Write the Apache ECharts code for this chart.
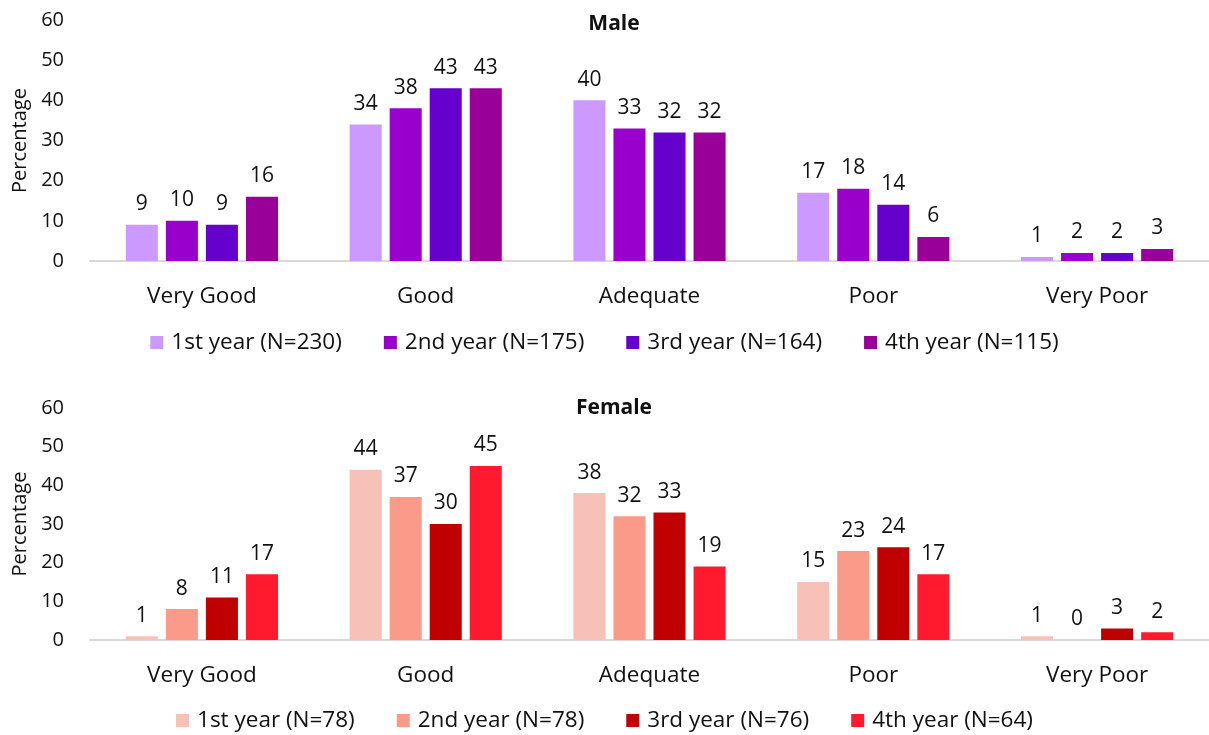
<!DOCTYPE html>
<html>
<head>
<meta charset="utf-8">
<script src="https://cdn.jsdelivr.net/npm/echarts@6/dist/echarts.min.js"></script>
<style>
  html, body { margin: 0; padding: 0; background: #fff; }
  #chart { width: 1209px; height: 735px; }
</style>
</head>
<body>
<div id="chart"></div>
<script>
// Self-rated ratings by year of study, split by sex (percentages)
const categories = ['Very Good', 'Good', 'Adequate', 'Poor', 'Very Poor'];
const yTicks = { min: 0, max: 60, interval: 10 };

const maleNames = ['1st year (N=230)', '2nd year (N=175)', '3rd year (N=164)', '4th year (N=115)'];
const male1st = [9, 34, 40, 17, 1];
const male2nd = [10, 38, 33, 18, 2];
const male3rd = [9, 43, 32, 14, 2];
const male4th = [16, 43, 32, 6, 3];
const maleColors = ['#CC99FF', '#9900CC', '#6600CC', '#990099'];

const femaleNames = ['1st year (N=78)', '2nd year (N=78)', '3rd year (N=76)', '4th year (N=64)'];
const female1st = [1, 44, 38, 15, 1];
const female2nd = [8, 37, 32, 23, 0];
const female3rd = [11, 30, 33, 24, 3];
const female4th = [17, 45, 19, 17, 2];
const femaleColors = ['#F8C1B7', '#F99B88', '#C00000', '#FF1A2E'];

const FONT = '"Open Sans"';
const TXT = '#111';

function barSeries(name, data, color, idx) {
  return {
    name: name,
    type: 'bar',
    xAxisIndex: idx,
    yAxisIndex: idx,
    data: data,
    itemStyle: { color: color },
    barGap: '25%',
    barCategoryGap: '32%',
    label: {
      show: true,
      position: 'top',
      distance: 10,
      color: TXT,
      fontFamily: FONT,
      fontSize: 21
    }
  };
}

function xAxis(idx) {
  return {
    type: 'category',
    gridIndex: idx,
    data: categories,
    axisLine: { lineStyle: { color: '#D9D9D9', width: 2 } },
    axisTick: { show: false },
    axisLabel: { color: TXT, fontFamily: FONT, fontSize: 22.5, margin: 24 }
  };
}

function yAxis(idx) {
  return {
    type: 'value',
    gridIndex: idx,
    min: yTicks.min,
    max: yTicks.max,
    interval: yTicks.interval,
    name: 'Percentage',
    nameLocation: 'middle',
    nameGap: 60,
    nameTextStyle: { color: TXT, fontFamily: FONT, fontSize: 20 },
    axisLine: { show: false },
    axisTick: { show: false },
    splitLine: { show: false },
    axisLabel: { color: TXT, fontFamily: FONT, fontSize: 20, margin: 26 }
  };
}

function legend(names, top) {
  return {
    top: top,
    left: 'center',
    padding: [5, 0, 5, 14],
    data: names,
    icon: 'rect',
    itemWidth: 13,
    itemHeight: 13,
    itemGap: 42,
    textStyle: { color: TXT, fontFamily: FONT, fontSize: 22.5, padding: [0, 0, 0, 3] }
  };
}

function title(text, top) {
  return {
    text: text,
    left: 609,
    textAlign: 'center',
    top: top,
    textStyle: { color: TXT, fontFamily: FONT, fontSize: 21, fontWeight: 'bold' }
  };
}

const chart = echarts.init(document.getElementById('chart'));
chart.setOption({
  animation: false,
  backgroundColor: '#fff',
  title: [title('Male', 9), title('Female', 393)],
  legend: [legend(maleNames, 326), legend(femaleNames, 704)],
  grid: [
    { left: 90, right: 0, top: 20, height: 241 },
    { left: 90, right: 0, top: 408, height: 232 }
  ],
  xAxis: [xAxis(0), xAxis(1)],
  yAxis: [yAxis(0), yAxis(1)],
  series: [
    barSeries(maleNames[0], male1st, maleColors[0], 0),
    barSeries(maleNames[1], male2nd, maleColors[1], 0),
    barSeries(maleNames[2], male3rd, maleColors[2], 0),
    barSeries(maleNames[3], male4th, maleColors[3], 0),
    barSeries(femaleNames[0], female1st, femaleColors[0], 1),
    barSeries(femaleNames[1], female2nd, femaleColors[1], 1),
    barSeries(femaleNames[2], female3rd, femaleColors[2], 1),
    barSeries(femaleNames[3], female4th, femaleColors[3], 1)
  ]
});
</script>
</body>
</html>
